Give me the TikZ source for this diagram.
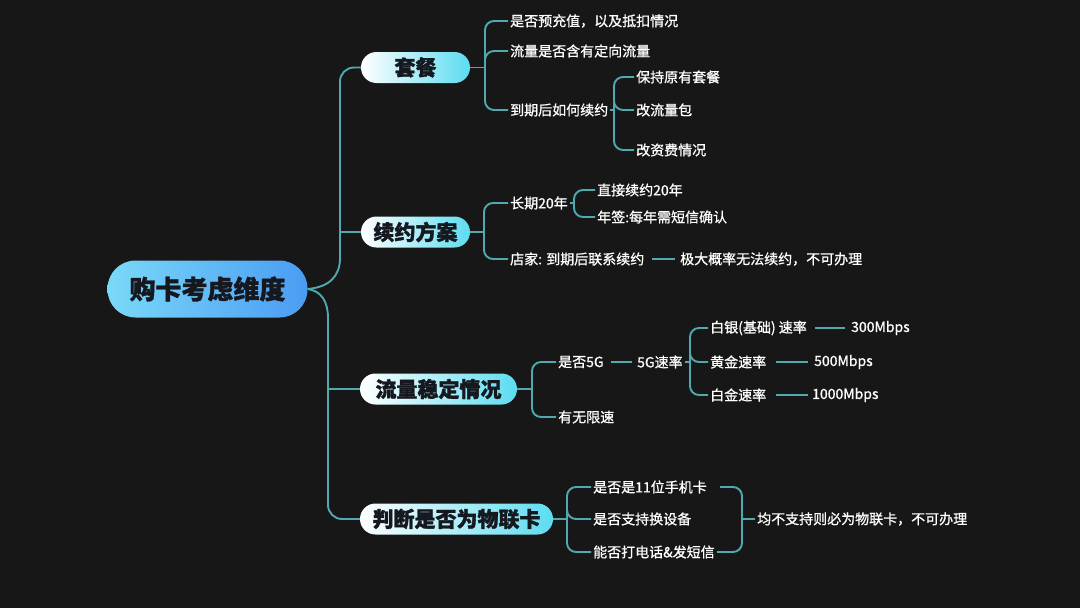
\documentclass[tikz,border=0pt]{standalone}
\usepackage{fontspec}
\newfontfamily\cjk[FakeBold=0.9]{Noto Sans CJK SC}
\newfontfamily\cjkheavy[BoldFeatures={FakeBold=1.4}]{Noto Sans CJK SC}
\usetikzlibrary{calc}
\definecolor{bg}{HTML}{171717}
\definecolor{ln}{HTML}{4FA9AE}
\definecolor{cyanB}{HTML}{5CDCF0}
\definecolor{rootL}{HTML}{7AD9F8}
\definecolor{rootR}{HTML}{4A9CF3}
\definecolor{ink}{HTML}{15181E}
\begin{document}
\begin{tikzpicture}[x=1pt,y=-1pt,
  line/.style={draw=ln, line width=1.9pt},
  brk/.style={line, rounded corners=9pt},
  trunk/.style={line, rounded corners=14pt},
  leaf/.style={anchor=west, text=white, font=\cjk\fontsize{14}{16}\selectfont, inner xsep=2pt, inner ysep=1pt},
  branch/.style={rounded corners=15.5pt, minimum height=31pt, left color=white, right color=cyanB, text=ink, font=\cjkheavy\bfseries\fontsize{21}{24}\selectfont, inner sep=0pt},
  rootbox/.style={rounded corners=28pt, minimum height=57pt, minimum width=200pt, left color=rootL, right color=rootR, text=ink, font=\cjkheavy\bfseries\fontsize{26}{30}\selectfont, inner sep=0pt}]
\fill[bg] (0,0) rectangle (1080,608);
\useasboundingbox (0,0) rectangle (1080,608);

% root and branches
\node[rootbox] (root) at (207.5,289) {购卡考虑维度};
\node[branch, minimum width=109pt] (b1) at (415.5,67.5) {套餐};
\node[branch, minimum width=109pt] (b2) at (415.5,232) {续约方案};
\node[branch, minimum width=157pt] (b3) at (438.5,389) {流量稳定情况};
\node[branch, minimum width=193pt] (b4) at (456.5,519) {判断是否为物联卡};

\coordinate (t1) at (340,258);
\coordinate (t2) at (328,318);
\draw[line] (root.east) .. controls +(22,-2) and +(0,18) .. (t1);
\draw[trunk] (t1) |- (b1.west);
\draw[line] (b2.west -| t1) -- (b2.west);
\draw[line] (root.east) .. controls +(14,2) and +(0,-16) .. (t2);
\draw[trunk] (t2) |- (b4.west);
\draw[line] (b3.west -| t2) -- (b3.west);

% 套餐
\node[leaf] (a1) at (508,21) {是否预充值，以及抵扣情况};
\node[leaf] (a2) at (508,51) {流量是否含有定向流量};
\node[leaf] (a3) at (508,110) {到期后如何续约};
\node[leaf] (a31) at (634,77) {保持原有套餐};
\node[leaf] (a32) at (634,110) {改流量包};
\node[leaf] (a33) at (634,150) {改资费情况};
\coordinate (k1) at (485,67.5);
\draw[line] (b1.east) -- (k1);
\foreach \c in {a1,a2,a3} \draw[brk] (k1) |- (\c.west);
\coordinate (k2) at (614,110);
\draw[line] (a3.east) -- (k2);
\foreach \c in {a31,a32,a33} \draw[brk] (k2) |- (\c.west);

% 续约方案
\node[leaf] (c1) at (508,203) {长期20年};
\node[leaf] (c11) at (595,190) {直接续约20年};
\node[leaf] (c12) at (595,217) {年签:每年需短信确认};
\node[leaf] (c2) at (508,259) {店家: 到期后联系续约};
\node[leaf] (c21) at (678,259) {极大概率无法续约，不可办理};
\coordinate (k3) at (484,232);
\draw[line] (b2.east) -- (k3);
\foreach \c in {c1,c2} \draw[brk] (k3) |- (\c.west);
\coordinate (k4) at (574,203);
\draw[line] (c1.east) -- (k4);
\foreach \c in {c11,c12} \draw[brk] (k4) |- (\c.west);
\draw[line] ([xshift=6pt]c2.east) -- ([xshift=-3pt]c21.west);

% 流量稳定情况
\node[leaf] (d1) at (556,362) {是否5G};
\node[leaf] (d2) at (556,417) {有无限速};
\node[leaf] (d11) at (635,362) {5G速率};
\coordinate (k5) at (532,389);
\draw[line] (b3.east) -- (k5);
\foreach \c in {d1,d2} \draw[brk] (k5) |- (\c.west);
\draw[line] ([xshift=5pt]d1.east) -- ([xshift=-3pt]d11.west);
\node[leaf] (e1) at (708,328) {白银(基础) 速率};
\node[leaf] (e2) at (708,362) {黄金速率};
\node[leaf] (e3) at (708,395) {白金速率};
\node[leaf] (f1) at (849,328) {300Mbps};
\node[leaf] (f2) at (812,362) {500Mbps};
\node[leaf] (f3) at (810,395) {1000Mbps};
\coordinate (k6) at (690,362);
\draw[line] (d11.east) -- (k6);
\foreach \c in {e1,e2,e3} \draw[brk] (k6) |- (\c.west);
\draw[line] ([xshift=6pt]e1.east) -- ([xshift=-4pt]f1.west);
\draw[line] ([xshift=8pt]e2.east) -- ([xshift=-4pt]f2.west);
\draw[line] ([xshift=8pt]e3.east) -- ([xshift=-2pt]f3.west);

% 物联卡
\node[leaf] (g1) at (591,487) {是否是11位手机卡};
\node[leaf] (g2) at (591,519) {是否支持换设备};
\node[leaf] (g3) at (591,552) {能否打电话\&发短信};
\node[leaf] (h) at (755,519) {均不支持则必为物联卡，不可办理};
\coordinate (k7) at (567,519);
\draw[line] (b4.east) -- (k7);
\foreach \c in {g1,g2,g3} \draw[brk] (k7) |- (\c.west);
\coordinate (k8) at (742,519);
\coordinate (r1) at (720,487);
\draw[brk] (r1) -| (k8);
\draw[brk] (g3.east) -| (k8);
\draw[line] (k8) -- (h.west);
\end{tikzpicture}
\end{document}
